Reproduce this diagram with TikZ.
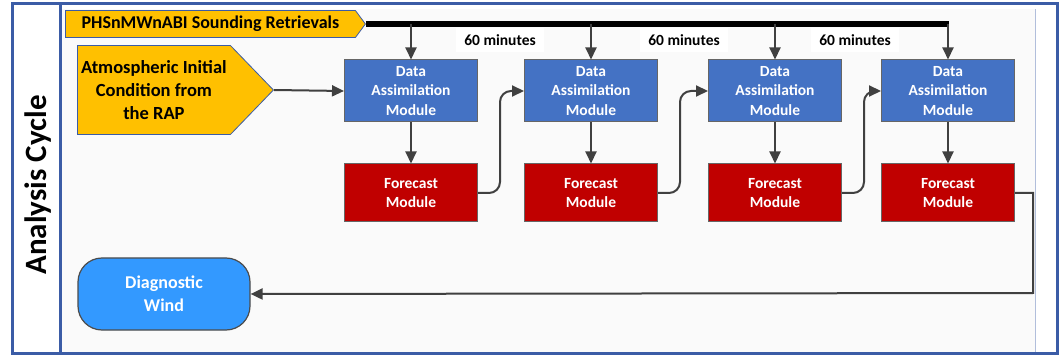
\documentclass[tikz,border=0pt]{standalone}
\usepackage{fontspec}
\setmainfont{Carlito}
\usetikzlibrary{shapes.symbols, arrows.meta}

\definecolor{frameblue}{HTML}{3B5CA6}
\definecolor{amber}{HTML}{FFC000}
\definecolor{dablue}{HTML}{4472C4}
\definecolor{fcred}{HTML}{C00000}
\definecolor{diagblue}{HTML}{3399FF}
\definecolor{linegray}{HTML}{404040}

\begin{document}
\begin{tikzpicture}[x=1pt, y=-1pt, >={Triangle[length=12pt, width=11pt]},
    module/.style={draw=black!60, line width=1pt, minimum width=133pt, inner sep=0pt,
        text=white, align=center, font=\bfseries\fontsize{15.5}{19.5}\selectfont},
    damod/.style={module, fill=dablue, minimum height=62pt},
    fcmod/.style={module, fill=fcred, minimum height=58pt},
    banner/.style={signal, signal to=east, fill=amber, draw=frameblue, line width=0.8pt,
        inner sep=0pt, align=center},
    link/.style={->, line width=2pt, draw=linegray}]

    % Frame
    \fill[white] (0,0) rectangle (1060,355);
    \fill[gray!4] (62,9) rectangle (1035,352);
    \draw[frameblue!40, thin] (62,352) -- (1035,352) -- (1035,9);
    \draw[frameblue, line width=3pt] (12,4) rectangle (1057,353);
    \draw[frameblue, line width=3pt] (60,4) -- (60,353);
    \node[rotate=90, font=\bfseries\fontsize{31}{31}\selectfont] (cycle) at (38,185) {Analysis Cycle};

    % Inputs
    \node[banner, signal pointer angle=107, minimum width=300pt, minimum height=27pt,
        font=\bfseries\fontsize{18}{20}\selectfont, anchor=west] (obs) at (65,24)
        {PHSnMWnABI Sounding Retrievals};
    \node[banner, signal pointer angle=92, minimum width=196pt, minimum height=89pt,
        font=\bfseries\fontsize{18.5}{23}\selectfont, anchor=west] (rap) at (77,90)
        {Atmospheric Initial\\Condition from\\the RAP};

    % Modules
    \foreach \i/\x in {1/411, 2/591, 3/775, 4/948} {
        \node[damod] (da\i) at (\x,91) {Data\\Assimilation\\Module};
        \node[fcmod] (fc\i) at (\x,193) {Forecast\\Module};
        \draw[link] (da\i) -- (fc\i);
    }
    \node[draw=black!70, line width=1.2pt, fill=diagblue, rounded corners=24pt,
        minimum width=172pt, minimum height=72pt, text=white, align=center,
        font=\bfseries\fontsize{18}{23}\selectfont] (diag) at (164,294) {Diagnostic\\Wind};

    % Observation feed
    \draw[line width=6pt] (obs.east) -- ([xshift=1pt]obs.east -| da4.north);
    \foreach \i in {1,...,4} {
        \draw[link] (da\i.north |- obs.east) -- (da\i.north);
    }
    \foreach \x/\n in {500/1, 684/2, 855/3} {
        \node[fill=white, inner xsep=8pt, minimum height=24pt,
            font=\bfseries\fontsize{15.5}{17}\selectfont] (gap\n) at (\x,40) {60 minutes};
    }

    % Cycle links
    \draw[link] (rap.east) -- (da1.west);
    \foreach \i/\j in {1/2, 2/3, 3/4} {
        \draw[link, rounded corners=11pt] (fc\i.east) -| ([xshift=22pt]fc\i.east |- da\j.west) -- (da\j.west);
    }
    \coordinate (turn) at (1033,293);
    \draw[link] (fc4.east) -| (turn) -- (diag.east);
\end{tikzpicture}
\end{document}
